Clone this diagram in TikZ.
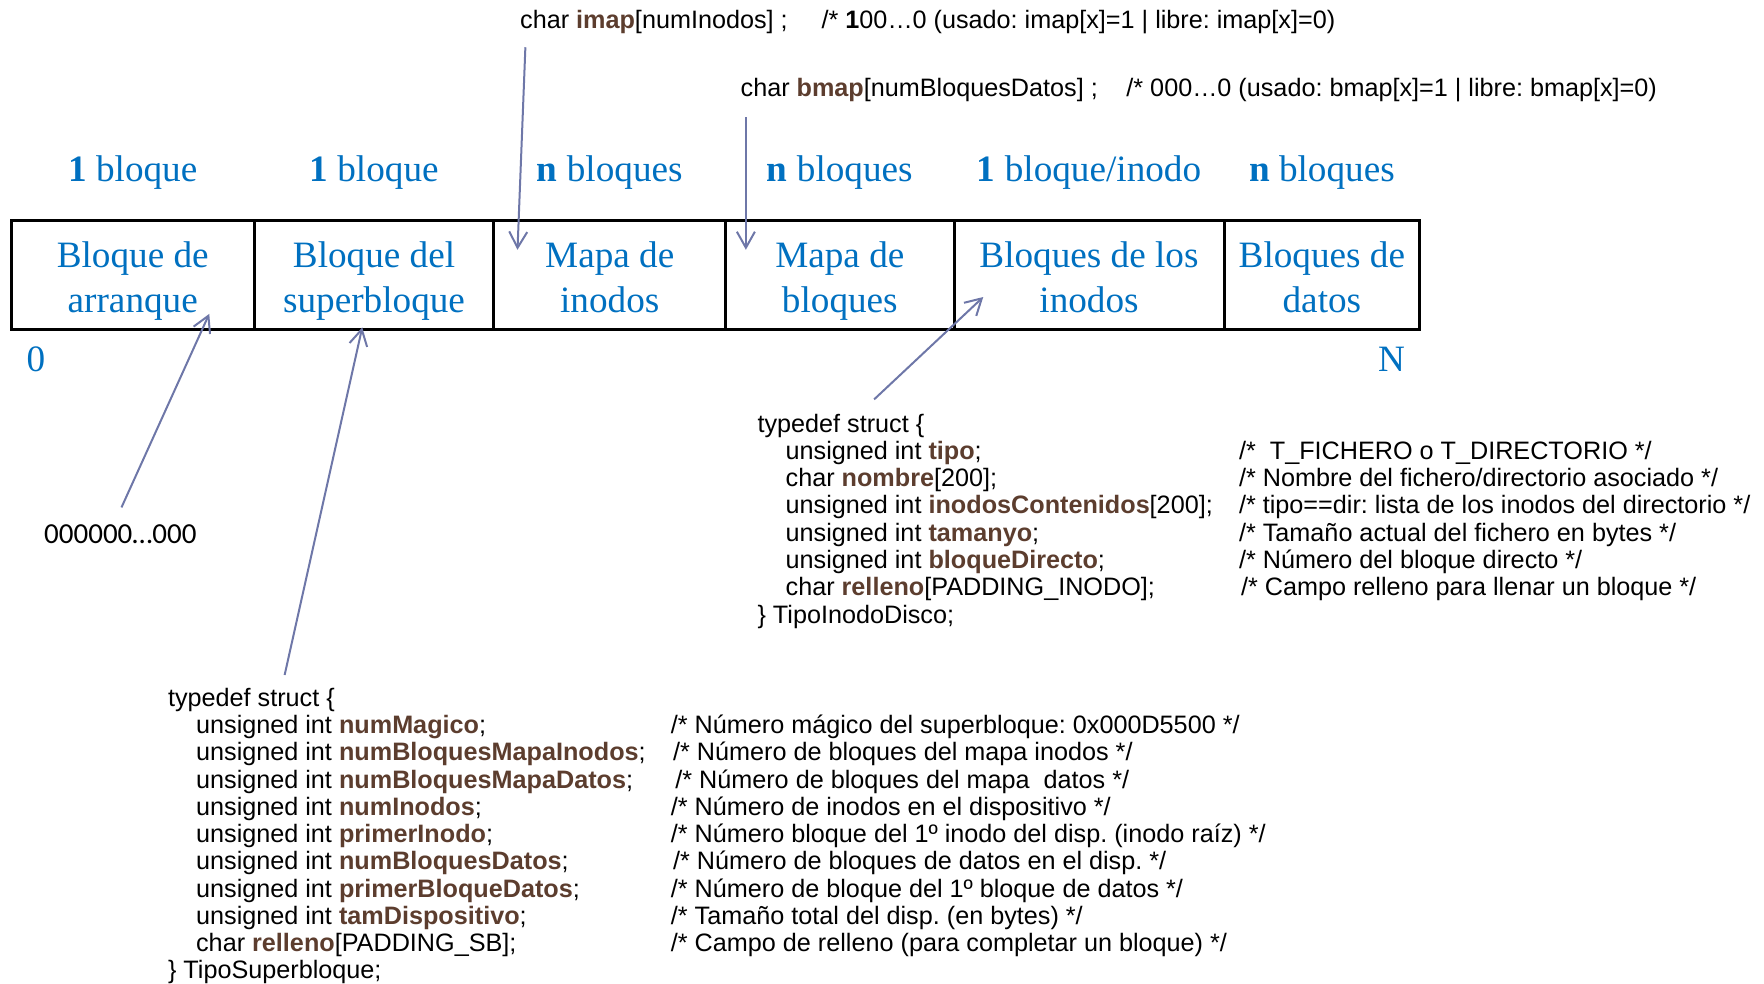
\documentclass[tikz,border=0pt]{standalone}
\usepackage{fontspec}
\setmainfont{Liberation Serif}
\setsansfont{Liberation Sans}
\newfontfamily\calib{Carlito}
\usetikzlibrary{arrows.meta}
\definecolor{cblue}{HTML}{0070C0}
\definecolor{fbrown}{HTML}{5C3D2E}
\definecolor{arrc}{HTML}{6E77A8}
\newcommand{\fld}[1]{\textbf{\color{fbrown}#1}}
\newcommand{\codeln}[3]{\hspace*{14.06pt}\makebox[#1][l]{#2}#3}
\newcommand{\twol}[2]{\begin{tabular}[t]{@{}c@{}}#1\\#2\end{tabular}}
\frenchspacing
\begin{document}
\begin{tikzpicture}[x=0.5625pt,y=-0.5625pt,
  cell/.style={draw=black, line width=1.5pt, inner sep=0pt, minimum height=54.5625pt},
  celltext/.style={text=cblue, font=\fontsize{18.6}{22.5}\selectfont, anchor=base, inner sep=0pt},
  toplabel/.style={text=cblue, font=\fontsize{18.6}{22.5}\selectfont, anchor=base, inner sep=0pt},
  code/.style={font=\sffamily\fontsize{12.6}{13.66}\selectfont, anchor=base west, inner sep=0pt},
  ptr/.style={draw=arrc, line width=1pt, -{Straight Barb[length=8pt,width=9pt]}}]
\useasboundingbox (0,0) rectangle (1568,874);

% top code lines
\node[code] (imap) at (462,25.5) {\makebox[150.75pt][l]{char \fld{imap}[numInodos] ;}/* \textbf{1}00…0 (usado: imap[x]=1 | libre: imap[x]=0)};
\node[code] (bmap) at (658,86) {\makebox[192.9pt][l]{char \fld{bmap}[numBloquesDatos] ;}/* 000…0 (usado: bmap[x]=1 | libre: bmap[x]=0)};

% size labels
\node[toplabel] (l1) at (118,161) {\textbf{1} bloque};
\node[toplabel] (l2) at (332.5,161) {\textbf{1} bloque};
\node[toplabel] (l3) at (542,161) {\textbf{n} bloques};
\node[toplabel] (l4) at (746.5,161) {\textbf{n} bloques};
\node[toplabel] (l5) at (968,161) {\textbf{1} bloque/inodo};
\node[toplabel] (l6) at (1175,161) {\textbf{n} bloques};

% cells
\node[cell, minimum width=121.5pt] (c1) at (118,244.5) {};
\node[cell, minimum width=119.81pt] (c2) at (332.5,244.5) {};
\node[cell, minimum width=115.88pt] (c3) at (542,244.5) {};
\node[cell, minimum width=114.19pt] (c4) at (746.5,244.5) {};
\node[cell, minimum width=135pt] (c5) at (968,244.5) {};
\node[cell, minimum width=97.88pt] (c6) at (1175,244.5) {};

\node[celltext] (t1) at (118,238) {\twol{Bloque de}{arranque}};
\node[celltext] (t2) at (332.5,238) {\twol{Bloque del}{superbloque}};
\node[celltext] (t3) at (542,238) {\twol{Mapa de}{inodos}};
\node[celltext] (t4) at (746.5,238) {\twol{Mapa de}{bloques}};
\node[celltext] (t5) at (968,238) {\twol{Bloques de los}{inodos}};
\node[celltext] (t6) at (1175,238) {\twol{Bloques de}{datos}};

\node[text=cblue, font=\fontsize{18.6}{22.5}\selectfont, inner sep=0pt] (zero) at (32,319) {0};
\node[text=cblue, font=\fontsize{18.6}{22.5}\selectfont, inner sep=0pt] (bigN) at (1237,319) {N};

\node[font=\calib\fontsize{14.5}{16}\selectfont, inner sep=0pt] (zeros) at (107,475) {000000…000};

% inode struct
\node[code] (inodo) at (673,384) {\begin{tabular}[t]{@{}l@{}}
typedef struct \{\\
\codeln{226.7pt}{unsigned int \fld{tipo};}{/*\ \ T\_FICHERO o T\_DIRECTORIO */}\\
\codeln{226.7pt}{char \fld{nombre}[200];}{/* Nombre del fichero/directorio asociado */}\\
\codeln{226.7pt}{unsigned int \fld{inodosContenidos}[200];}{/* tipo==dir: lista de los inodos del directorio */}\\
\codeln{226.7pt}{unsigned int \fld{tamanyo};}{/* Tamaño actual del fichero en bytes */}\\
\codeln{226.7pt}{unsigned int \fld{bloqueDirecto};}{/* Número del bloque directo */}\\
\codeln{226.7pt}{char \fld{relleno}[PADDING\_INODO];}{\hspace*{1pt}/* Campo relleno para llenar un bloque */}\\
\} TipoInodoDisco;
\end{tabular}};

% superblock struct
\node[code, font=\sffamily\fontsize{12.6}{13.61}\selectfont] (sb) at (149,628) {\begin{tabular}[t]{@{}l@{}}
typedef struct \{\\
\codeln{237.4pt}{unsigned int \fld{numMagico};}{/* Número mágico del superbloque: 0x000D5500 */}\\
\codeln{237.4pt}{unsigned int \fld{numBloquesMapaInodos};}{\hspace*{1.1pt}/* Número de bloques del mapa inodos */}\\
\codeln{237.4pt}{unsigned int \fld{numBloquesMapaDatos};}{\hspace*{2.2pt}/* Número de bloques del mapa\ \ datos */}\\
\codeln{237.4pt}{unsigned int \fld{numInodos};}{/* Número de inodos en el dispositivo */}\\
\codeln{237.4pt}{unsigned int \fld{primerInodo};}{/* Número bloque del 1º inodo del disp. (inodo raíz) */}\\
\codeln{237.4pt}{unsigned int \fld{numBloquesDatos};}{\hspace*{1.1pt}/* Número de bloques de datos en el disp. */}\\
\codeln{237.4pt}{unsigned int \fld{primerBloqueDatos};}{/* Número de bloque del 1º bloque de datos */}\\
\codeln{237.4pt}{unsigned int \fld{tamDispositivo};}{/* Tamaño total del disp. (en bytes) */}\\
\codeln{237.4pt}{char \fld{relleno}[PADDING\_SB];}{/* Campo de relleno (para completar un bloque) */}\\
\} TipoSuperbloque;
\end{tabular}};

% connectors
\coordinate (imapS) at (467,42);
\coordinate (imapE) at (460,222);
\coordinate (bmapS) at (663,104);
\coordinate (bmapE) at (663,222);
\coordinate (bootS) at (108,451);
\coordinate (bootE) at (186,279);
\coordinate (sbS) at (253,600);
\coordinate (sbE) at (322,291);
\coordinate (inoS) at (777,355);
\coordinate (inoE) at (874,264);
\draw[ptr] (imapS) -- (imapE);
\draw[ptr] (bmapS) -- (bmapE);
\draw[ptr] (bootS) -- (bootE);
\draw[ptr] (sbS) -- (sbE);
\draw[ptr] (inoS) -- (inoE);
\end{tikzpicture}
\end{document}
